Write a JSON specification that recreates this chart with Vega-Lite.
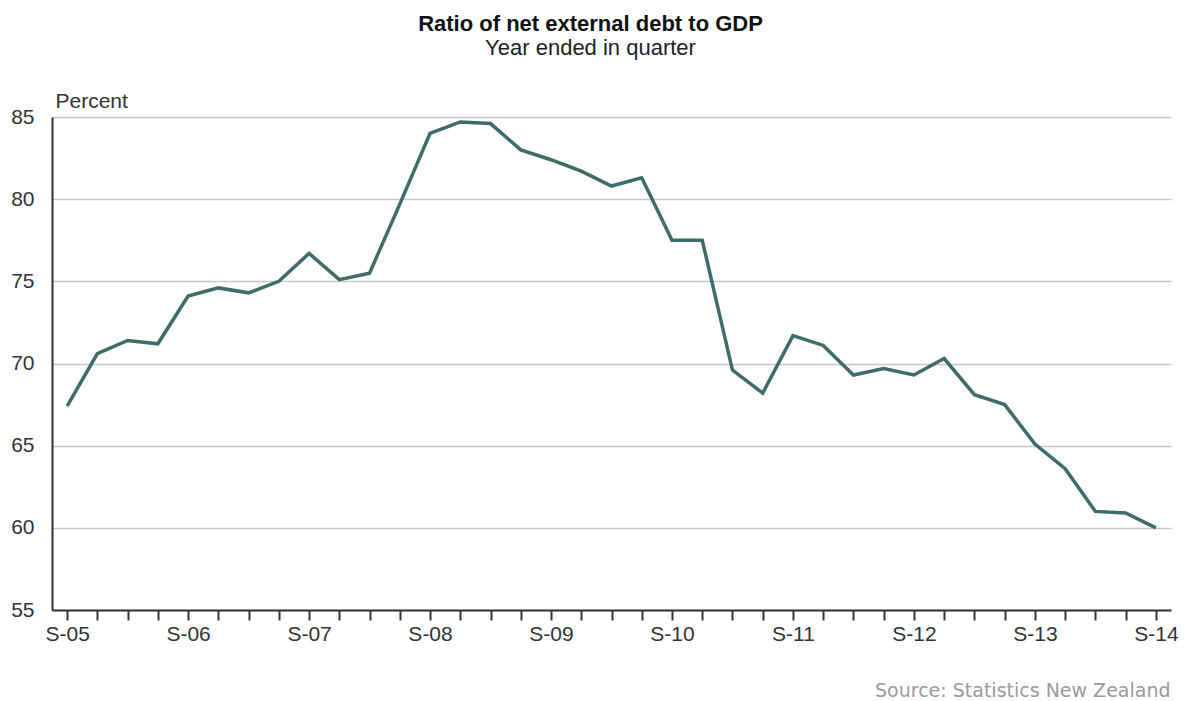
{
  "$schema": "https://vega.github.io/schema/vega-lite/v6.json",
  "width": 1119,
  "height": 493,
  "autosize": {"type": "none"},
  "padding": {"left": 52, "top": 117, "right": 14, "bottom": 91},
  "background": "white",
  "config": {"view": {"stroke": null}},
  "title": {
    "text": "Ratio of net external debt to GDP",
    "subtitle": "Year ended in quarter",
    "anchor": "middle",
    "frame": "group",
    "dx": -21,
    "offset": 30,
    "font": "Liberation Sans",
    "fontSize": 22,
    "fontWeight": "bold",
    "color": "#111",
    "subtitleFont": "Liberation Sans",
    "subtitleFontSize": 22,
    "subtitleColor": "#222",
    "subtitlePadding": 2
  },
  "data": {
    "values": [
      {"q": "S-05", "v": 67.4},
      {"q": "D-05", "v": 70.6},
      {"q": "M-06", "v": 71.4},
      {"q": "J-06", "v": 71.2},
      {"q": "S-06", "v": 74.1},
      {"q": "D-06", "v": 74.6},
      {"q": "M-07", "v": 74.3},
      {"q": "J-07", "v": 75.0},
      {"q": "S-07", "v": 76.7},
      {"q": "D-07", "v": 75.1},
      {"q": "M-08", "v": 75.5},
      {"q": "J-08", "v": 79.7},
      {"q": "S-08", "v": 84.0},
      {"q": "D-08", "v": 84.7},
      {"q": "M-09", "v": 84.6},
      {"q": "J-09", "v": 83.0},
      {"q": "S-09", "v": 82.4},
      {"q": "D-09", "v": 81.7},
      {"q": "M-10", "v": 80.8},
      {"q": "J-10", "v": 81.3},
      {"q": "S-10", "v": 77.5},
      {"q": "D-10", "v": 77.5},
      {"q": "M-11", "v": 69.6},
      {"q": "J-11", "v": 68.2},
      {"q": "S-11", "v": 71.7},
      {"q": "D-11", "v": 71.1},
      {"q": "M-12", "v": 69.3},
      {"q": "J-12", "v": 69.7},
      {"q": "S-12", "v": 69.3},
      {"q": "D-12", "v": 70.3},
      {"q": "M-13", "v": 68.1},
      {"q": "J-13", "v": 67.5},
      {"q": "S-13", "v": 65.1},
      {"q": "D-13", "v": 63.6},
      {"q": "M-14", "v": 61.0},
      {"q": "J-14", "v": 60.9},
      {"q": "S-14", "v": 60.0}
    ]
  },
  "mark": {"type": "line", "color": "#3d6d6b", "strokeWidth": 3.5, "strokeJoin": "miter"},
  "encoding": {
    "x": {
      "field": "q",
      "type": "ordinal",
      "sort": null,
      "scale": {"type": "point", "padding": 0.5},
      "axis": {
        "title": "Source: Statistics New Zealand",
        "titleFont": "DejaVu Sans",
        "titleFontSize": 19,
        "titleFontWeight": "normal",
        "titleColor": "#9a9a9a",
        "titleAnchor": "end",
        "titleAlign": "right",
        "titleBaseline": "alphabetic",
        "titleX": 1118,
        "titleY": 86,
        "labelExpr": "indexof(datum.value, 'S-') === 0 ? datum.value : ''",
        "labelAngle": 0,
        "labelFont": "Liberation Sans",
        "labelFontSize": 21,
        "labelColor": "#333",
        "labelPadding": 3,
        "labelOverlap": false,
        "domainColor": "#333",
        "domainWidth": 2,
        "tickColor": "#333",
        "tickWidth": 2,
        "tickSize": 10,
        "grid": false
      }
    },
    "y": {
      "field": "v",
      "type": "quantitative",
      "scale": {"domain": [55, 85], "nice": false, "zero": false},
      "axis": {
        "values": [55, 60, 65, 70, 75, 80, 85],
        "title": "Percent",
        "titleAngle": 0,
        "titleAlign": "left",
        "titleBaseline": "alphabetic",
        "titleX": 3,
        "titleY": -10,
        "titleFont": "Liberation Sans",
        "titleFontSize": 21,
        "titleFontWeight": "normal",
        "titleColor": "#333",
        "labelFont": "Liberation Sans",
        "labelFontSize": 21,
        "labelColor": "#333",
        "labelPadding": 18,
        "ticks": false,
        "domainColor": "#333",
        "domainWidth": 2,
        "grid": true,
        "gridColor": "#c8c8c8",
        "gridWidth": 1.5
      }
    }
  }
}
